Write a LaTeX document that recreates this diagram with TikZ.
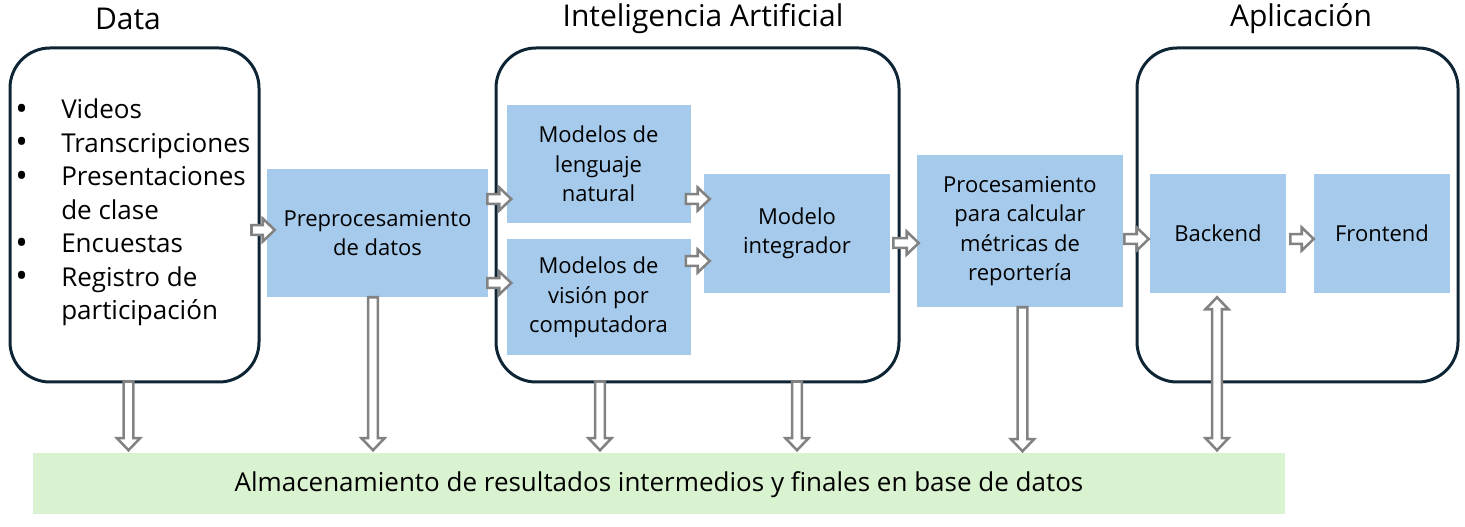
\documentclass[tikz,border=0pt]{standalone}
\usepackage{fontspec}
\setmainfont{Open Sans}
\usetikzlibrary{calc}
\definecolor{navy}{HTML}{0E2535}
\definecolor{bluebox}{HTML}{A6CAEC}
\definecolor{greenbar}{HTML}{D9F2D0}
\definecolor{arrowgray}{HTML}{828282}
\tikzset{
  group/.style={draw=navy, line width=2.25pt, rounded corners=30pt, minimum height=250.5pt, inner sep=0pt},
  bbox/.style={fill=bluebox, align=center, inner sep=0pt, font=\fontsize{16.5}{22.1}\selectfont},
  title/.style={font=\fontsize{22.5}{27}\selectfont, inner sep=0pt},
  barrow/.style={draw=arrowgray, fill=white, line width=1.9pt, line join=miter},
}
\newcommand\bul{\makebox[33pt][l]{\hspace{-1.5pt}\raisebox{-1pt}{\fontsize{25}{25}\selectfont•}}}
\newcommand\nobul{\makebox[33pt][l]{}}
\newcommand\harrow[2]{%
  \path #1 coordinate (ha) #2 coordinate (hx) (ha -| hx) coordinate (hb);
  \draw[barrow] ($(ha)+(0,-4.8)$) -- ($(hb)+(-12,-4.8)$) -- ($(hb)+(-12,-11.5)$) -- (hb)
    -- ($(hb)+(-12,11.5)$) -- ($(hb)+(-12,4.8)$) -- ($(ha)+(0,4.8)$) -- cycle;}
\newcommand\varrow[2]{%
  \path #1 coordinate (va) #2 coordinate (vx) (va |- vx) coordinate (vb);
  \draw[barrow] ($(va)+(-4.8,0)$) -- ($(vb)+(-4.8,-12)$) -- ($(vb)+(-11.5,-12)$) -- (vb)
    -- ($(vb)+(11.5,-12)$) -- ($(vb)+(4.8,-12)$) -- ($(va)+(4.8,0)$) -- cycle;}
\newcommand\dvarrow[2]{%
  \path #1 coordinate (va) #2 coordinate (vx) (va |- vx) coordinate (vb);
  \draw[barrow] (va) -- ($(va)+(11.5,12)$) -- ($(va)+(4.8,12)$) -- ($(vb)+(4.8,-12)$)
    -- ($(vb)+(11.5,-12)$) -- (vb) -- ($(vb)+(-11.5,-12)$) -- ($(vb)+(-4.8,-12)$)
    -- ($(va)+(-4.8,12)$) -- ($(va)+(-11.5,12)$) -- cycle;}
\begin{document}
\begin{tikzpicture}[x=0.75pt, y=-0.75pt]
\useasboundingbox (0,0) rectangle (1465,527);

% titles
\node[title] (tdata) at (128,19) {Data};
\node[title] (tia) at (703,19) {Inteligencia Artificial};
\node[title] (tapp) at (1301,19) {Aplicación};

% group boxes
\node[group, minimum width=186.75pt] (data) at (134.5,215) {};
\node[group, minimum width=302.25pt] (ia) at (697.5,215) {};
\node[group, minimum width=240.75pt] (app) at (1297.5,215) {};

% bullet list
\node[anchor=west, align=left, inner sep=0pt, font=\fontsize{19.5}{25.1}\selectfont] (list) at (17,212.5) {%
\bul Videos\\
\bul Transcripciones\\
\bul Presentaciones\\
\nobul de clase\\
\bul Encuestas\\
\bul Registro de\\
\nobul participación};

% process boxes
\node[bbox, minimum width=165.75pt, minimum height=96pt] (pre) at (377.5,233) {Preprocesamiento\\de datos};
\node[bbox, minimum width=138pt, minimum height=88.5pt] (mln) at (598.5,164) {Modelos de\\lenguaje\\natural};
\node[bbox, minimum width=138pt, minimum height=87pt] (mvc) at (598.5,297.5) {Modelos de\\visión por\\computadora};
\node[bbox, minimum width=139.5pt, minimum height=89.25pt] (mi) at (797,233.5) {Modelo\\integrador};
\node[bbox, minimum width=154.5pt, minimum height=114pt] (proc) at (1020,231) {Procesamiento\\para calcular\\métricas de\\reportería};
\node[bbox, minimum width=102pt, minimum height=89.25pt] (back) at (1218,233.5) {Backend};
\node[bbox, minimum width=102pt, minimum height=89.25pt] (front) at (1382,233.5) {Frontend};

% storage bar
\node[fill=greenbar, minimum width=939pt, minimum height=45pt, inner sep=0pt, font=\fontsize{19.5}{22}\selectfont] (bar) at (659,483.5) {\raisebox{-6pt}[0pt][0pt]{Almacenamiento de resultados intermedios y finales en base de datos}};

% horizontal arrows
\harrow{($(data.east)+(-9,15)$)}{($(pre.west)+(8,0)$)}
\harrow{($(pre.east)+(-1,-34)$)}{($(mln.west)+(5,0)$)}
\harrow{($(pre.east)+(-1,50)$)}{($(mvc.west)+(5,0)$)}
\harrow{($(mln.east)+(-5,35)$)}{($(mi.west)+(6,0)$)}
\harrow{($(mvc.east)+(-5,-36.5)$)}{($(mi.west)+(6,0)$)}
\harrow{($(mi.east)+(3,9.5)$)}{($(proc.west)+(2,0)$)}
\harrow{($(proc.east)+(1,8)$)}{($(back.west)+(-1,0)$)}
\harrow{($(back.east)+(4,5.5)$)}{(front.west)}

% vertical arrows to storage
\varrow{($(data.south)+(-6,-2)$)}{($(bar.north)+(0,-3)$)}
\varrow{($(pre.south)+(-4.5,0)$)}{($(bar.north)+(0,-3)$)}
\varrow{($(ia.south)+(-97.5,-2)$)}{($(bar.north)+(0,-3)$)}
\varrow{($(ia.south)+(99.5,-2)$)}{($(bar.north)+(0,-3)$)}
\varrow{($(proc.south)+(2.5,0)$)}{($(bar.north)+(0,-2)$)}
\dvarrow{($(back.south)+(-1,4)$)}{($(bar.north)+(0,-3)$)}
\end{tikzpicture}
\end{document}
